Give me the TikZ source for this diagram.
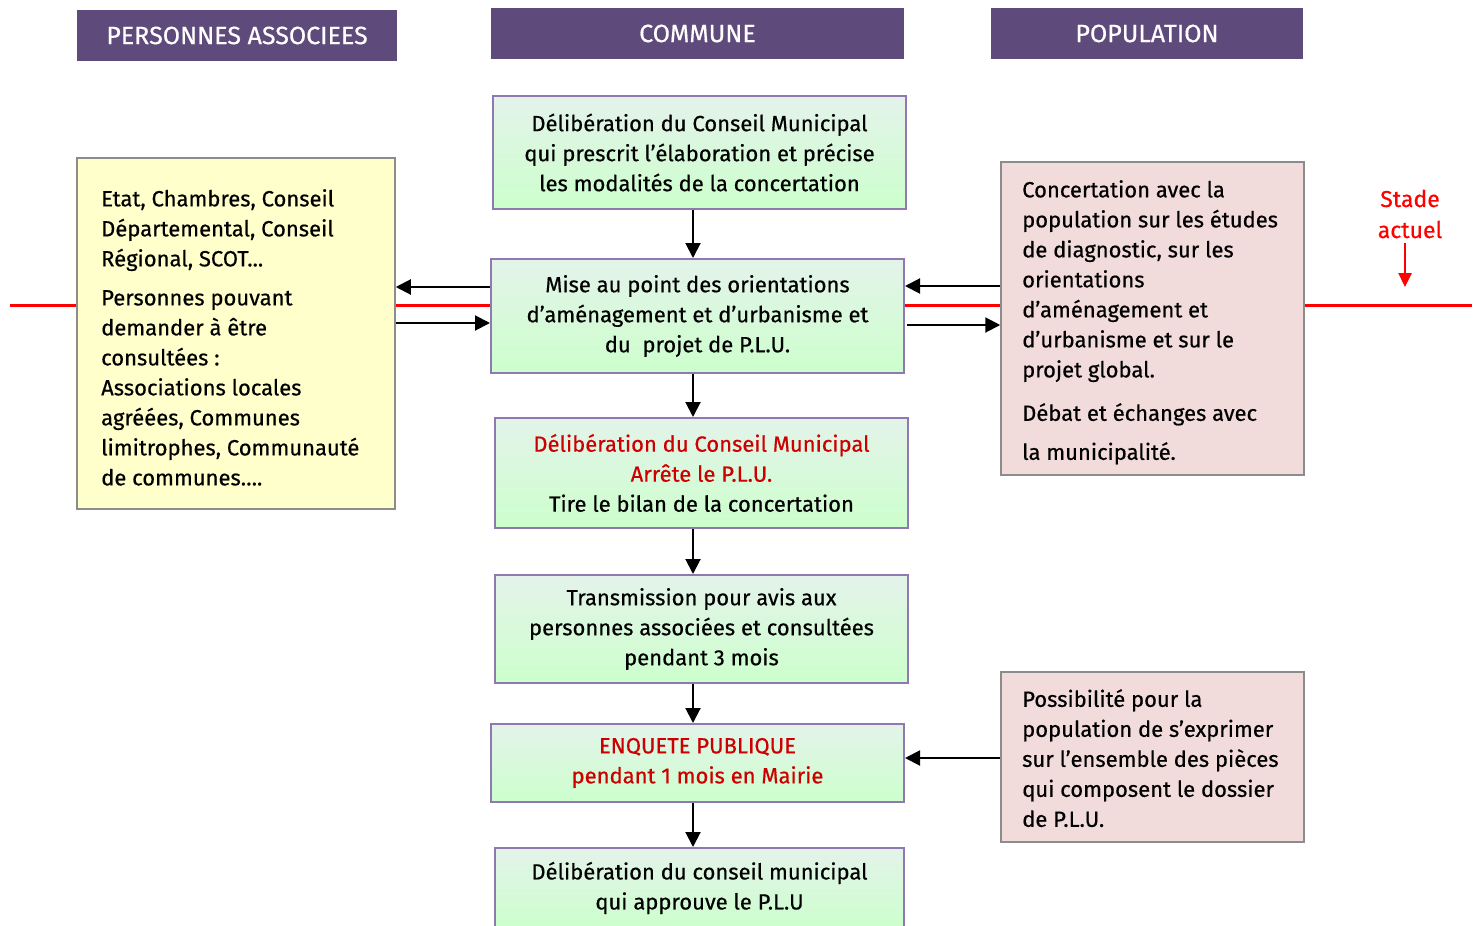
\documentclass[tikz,border=0pt]{standalone}
\usepackage{fontspec}
\setmainfont{Fira Sans}[FakeBold=0.5]
\usetikzlibrary{arrows.meta}
\definecolor{hdr}{HTML}{5F4B7B}
\definecolor{gtop}{HTML}{E4F3EA}
\definecolor{gbot}{HTML}{CCFFCC}
\definecolor{gborder}{HTML}{8E79B0}
\definecolor{ybox}{HTML}{FFFFCC}
\definecolor{pbox}{HTML}{F2DCDB}
\definecolor{bgray}{HTML}{8C8C8C}
\definecolor{dred}{HTML}{CC0000}
\tikzset{
  hdrbox/.style={fill=hdr, text=white, inner sep=0pt, font=\fontsize{25}{28}\selectfont},
  gbox/.style={draw=gborder, line width=2, top color=gtop, bottom color=gbot, inner sep=0pt, align=center, font=\fontsize{22}{30}\selectfont},
  ylw/.style={draw=bgray, line width=1.5, fill=ybox, inner sep=0pt},
  pnk/.style={draw=bgray, line width=1.5, fill=pbox, inner sep=0pt},
  txt/.style={align=left, anchor=north west, inner sep=0pt, font=\fontsize{22}{30}\selectfont},
  arr/.style={line width=2, -{Triangle[length=15,width=15]}},
}
\begin{document}
\begin{tikzpicture}[x=1pt,y=-1pt]
\useasboundingbox (0,0) rectangle (1480,926);
\clip (0,0) rectangle (1480,926);
% red timeline
\draw[red, line width=3] (10,305) -- (1472,305);
% headers
\node[hdrbox, minimum width=320, minimum height=51] (h1) at (237,35.5) {PERSONNES ASSOCIEES};
\node[hdrbox, minimum width=413, minimum height=51] (h2) at (697.5,33.5) {COMMUNE};
\node[hdrbox, minimum width=312, minimum height=51] (h3) at (1147,33.5) {POPULATION};
% side boxes
\node[ylw, minimum width=318, minimum height=351] (lb) at (236,333.5) {};
\node[txt] (lt1) at (101,189) {Etat, Chambres, Conseil\\Départemental, Conseil\\Régional, SCOT...};
\node[txt] (lt2) at (101,290) {Personnes pouvant\\demander à être\\consultées :\\Associations locales\\agréées, Communes\\limitrophes, Communauté\\de communes\dots.};
\node[pnk, minimum width=303, minimum height=313] (rb) at (1152.5,318.5) {};
\node[txt] (rt1) at (1022,180) {Concertation avec la\\population sur les études\\de diagnostic, sur les\\orientations\\d’aménagement et\\d’urbanisme et sur le\\projet global.};
\node[txt, font=\fontsize{22}{39}\selectfont] (rt2) at (1022,403) {Débat et échanges avec\\la municipalité.};
\node[pnk, minimum width=303, minimum height=170] (rb2) at (1152.5,757) {};
\node[txt] (rt3) at (1022,689) {Possibilité pour la\\population de s’exprimer\\sur l’ensemble des pièces\\qui composent le dossier\\de P.L.U.};
% central boxes
\node[gbox, minimum width=413, minimum height=113] (b1) at (699.5,152.5) {Délibération du Conseil Municipal\\qui prescrit l'élaboration et précise\\les modalités de la concertation};
\node[gbox, minimum width=413, minimum height=114] (b2) at (697.5,316) {Mise au point des orientations\\d’aménagement et d’urbanisme et\\du~~projet de P.L.U.};
\node[gbox, minimum width=413, minimum height=110] (b3) at (701.5,473) {\textcolor{dred}{Délibération du Conseil Municipal}\\\textcolor{dred}{Arrête le P.L.U.}\\Tire le bilan de la concertation};
\node[gbox, minimum width=413, minimum height=108] (b4) at (701.5,629) {Transmission pour avis aux\\personnes associées et consultées\\pendant 3 mois};
\node[gbox, minimum width=413, minimum height=78, text=dred] (b5) at (697.5,763) {ENQUETE PUBLIQUE\\pendant 1 mois en Mairie};
\node[gbox, minimum width=409, minimum height=80] (b6) at (699.5,888) {Délibération du conseil municipal\\qui approuve le P.L.U};
% vertical arrows
\coordinate (xv) at (693,0);
\draw[arr] (b1.south -| xv) -- (b2.north -| xv);
\draw[arr] (b2.south -| xv) -- (b3.north -| xv);
\draw[arr] (b3.south -| xv) -- (b4.north -| xv);
\draw[arr] (b4.south -| xv) -- (b5.north -| xv);
\draw[arr] (b5.south -| xv) -- (b6.north -| xv);
% horizontal arrows
\coordinate (ya) at (0,287);
\coordinate (yb) at (0,323);
\coordinate (yc) at (0,286);
\coordinate (yd) at (0,325);
\coordinate (ye) at (0,758);
\draw[arr] (b2.west |- ya) -- (lb.east |- ya);
\draw[arr] (lb.east |- yb) -- (b2.west |- yb);
\draw[arr] (rb.west |- yc) -- (b2.east |- yc);
\draw[arr] ([xshift=2]b2.east |- yd) -- (rb.west |- yd);
\draw[arr] (rb2.west |- ye) -- (b5.east |- ye);
% stade actuel
\node[text=red, align=center, inner sep=0pt, font=\fontsize{23}{31}\selectfont] (st) at (1410,214) {Stade\\actuel};
\coordinate (sa) at (1405,287);
\draw[red, line width=2.5, -{Triangle[length=14,width=13]}] (st.south -| sa) ++(0,5) -- (sa);
\end{tikzpicture}
\end{document}
